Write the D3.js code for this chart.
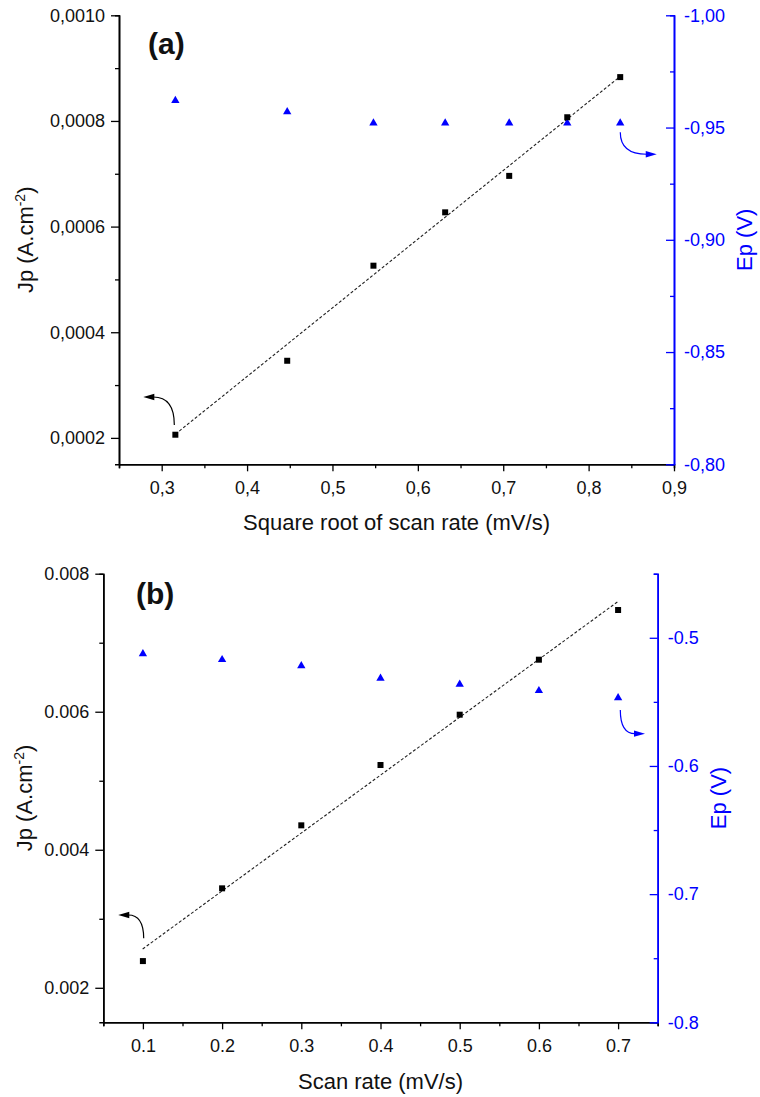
<!DOCTYPE html>
<html>
<head>
<meta charset="utf-8">
<script src="https://cdn.jsdelivr.net/npm/d3@7"></script>
<style>
  html, body { margin: 0; padding: 0; background: #fff; }
  svg text { font-family: "Liberation Sans", Arial, Helvetica, sans-serif; }
</style>
</head>
<body>
<svg id="chart" width="760" height="1097"></svg>
<script>
// ---------- DATA ----------
// Panel (a): square root of scan rate
const sqrtScanRate = [0.316, 0.447, 0.548, 0.632, 0.707, 0.775, 0.837];
const jpA = [0.000206, 0.000346, 0.000526, 0.000627, 0.000696, 0.000807, 0.000883];
const epA = [-0.962, -0.957, -0.952, -0.952, -0.952, -0.952, -0.952];
const fitAx = [0.316, 0.836];
const fitAy = [0.000207, 0.000883];
const xTicksA = [0.3, 0.4, 0.5, 0.6, 0.7, 0.8, 0.9];
const xMinorA = [0.25, 0.35, 0.45, 0.55, 0.65, 0.75, 0.85];
const yTicksA = [0.0002, 0.0004, 0.0006, 0.0008, 0.0010];
const yMinorA = [0.0003, 0.0005, 0.0007, 0.0009];
const y2TicksA = [-0.80, -0.85, -0.90, -0.95, -1.00];
const y2MinorA = [-0.825, -0.875, -0.925, -0.975];

// Panel (b): scan rate
const scanRate = [0.1, 0.2, 0.3, 0.4, 0.5, 0.6, 0.7];
const jpB = [0.002387, 0.003441, 0.004354, 0.005228, 0.005957, 0.006754, 0.007474];
const epB = [-0.5125, -0.5171, -0.5218, -0.5316, -0.5363, -0.5413, -0.5468];
const fitBx = [0.0997, 0.7008];
const fitBy = [0.002562, 0.007605];
const xTicksB = [0.1, 0.2, 0.3, 0.4, 0.5, 0.6, 0.7];
const xMinorB = [0.05, 0.15, 0.25, 0.35, 0.45, 0.55, 0.65, 0.75];
const yTicksB = [0.002, 0.004, 0.006, 0.008];
const yMinorB = [0.003, 0.005, 0.007];
const y2TicksB = [-0.5, -0.6, -0.7, -0.8];
const y2MinorB = [-0.45, -0.55, -0.65, -0.75];

// Annotation arrows (data units: [x, y]) — start of curve, arrow tip
const arrowsA = [
  { axis: "left",  start: [0.3148, 0.0002244], tip: [0.2785, 0.0002774] },
  { axis: "right", start: [0.8371, -0.9479],   tip: [0.8798, -0.9381] }
];
const arrowsB = [
  { axis: "left",  start: [0.1010, 0.002717],  tip: [0.0689, 0.003055] },
  { axis: "right", start: [0.7028, -0.5563],   tip: [0.7340, -0.5748] }
];

// ---------- DRAW ----------
const svg = d3.select("#chart");
const BLUE = "#0000ff";
const hy = (s) => s.replace("\u2212", "-");
const commaFmt = (digits) => (v) => hy(d3.format("." + digits + "f")(v)).replace(".", ",");
const dotFmt = (digits) => (v) => hy(d3.format("." + digits + "f")(v));

function drawPanel(cfg) {
  const g = svg.append("g");
  const x = d3.scaleLinear().domain(cfg.xDomain).range([cfg.left, cfg.right]);
  const y = d3.scaleLinear().domain(cfg.yDomain).range([cfg.bottom, cfg.top]);
  const y2 = d3.scaleLinear().domain(cfg.y2Domain).range([cfg.bottom, cfg.top]);

  // X axis (minor then major)
  const gxMinor = g.append("g").attr("transform", `translate(0,${cfg.bottom})`)
    .call(d3.axisBottom(x).tickValues(cfg.xMinor).tickSize(4).tickFormat(""));
  const gx = g.append("g").attr("transform", `translate(0,${cfg.bottom})`)
    .call(d3.axisBottom(x).tickValues(cfg.xTicks).tickSizeInner(7).tickSizeOuter(0)
      .tickPadding(10).tickFormat(cfg.xFmt));
  // Left axis
  const gyMinor = g.append("g").attr("transform", `translate(${cfg.left},0)`)
    .call(d3.axisLeft(y).tickValues(cfg.yMinor).tickSize(4).tickFormat(""));
  const gy = g.append("g").attr("transform", `translate(${cfg.left},0)`)
    .call(d3.axisLeft(y).tickValues(cfg.yTicks).tickSizeInner(8).tickSizeOuter(0)
      .tickPadding(6).tickFormat(cfg.yFmt));
  // Right axis (ticks pointing inward, labels outside)
  const gy2Minor = g.append("g").attr("transform", `translate(${cfg.right},0)`)
    .call(d3.axisLeft(y2).tickValues(cfg.y2Minor).tickSize(4).tickFormat(""));
  const gy2Major = g.append("g").attr("transform", `translate(${cfg.right},0)`)
    .call(d3.axisLeft(y2).tickValues(cfg.y2Ticks).tickSizeInner(8).tickSizeOuter(0).tickFormat(""));
  const gy2Lab = g.append("g").attr("transform", `translate(${cfg.right},0)`)
    .call(d3.axisRight(y2).tickValues(cfg.y2Ticks).tickSize(0).tickPadding(10).tickFormat(cfg.y2Fmt));

  [gxMinor, gx, gyMinor, gy].forEach(a => {
    a.selectAll(".domain").attr("stroke", "#000").attr("stroke-width", 1.6);
    a.selectAll(".tick line").attr("stroke", "#000").attr("stroke-width", 1.3);
    a.selectAll("text").attr("font-size", 18).attr("fill", "#111")
      .attr("font-family", '"Liberation Sans", Arial, sans-serif');
  });
  [gy2Minor, gy2Major, gy2Lab].forEach(a => {
    a.selectAll(".domain").attr("stroke", BLUE).attr("stroke-width", 1.6);
    a.selectAll(".tick line").attr("stroke", BLUE).attr("stroke-width", 1.3);
    a.selectAll("text").attr("font-size", 18).attr("fill", BLUE)
      .attr("font-family", '"Liberation Sans", Arial, sans-serif');
  });
  gy2Lab.select(".domain").remove();

  // Fit line
  const fit = cfg.fitX.map((v, i) => [v, cfg.fitY[i]]);
  g.append("path").datum(fit)
    .attr("d", d3.line().x(d => x(d[0])).y(d => y(d[1])))
    .attr("fill", "none").attr("stroke", "#222").attr("stroke-width", 1.1)
    .attr("stroke-dasharray", "3,2");

  // Triangles (Ep)
  const tri = d3.symbol().type(d3.symbolTriangle).size(30);
  g.selectAll(".tri").data(cfg.xs.map((v, i) => [v, cfg.ep[i]])).join("path")
    .attr("d", tri)
    .attr("transform", d => `translate(${x(d[0])},${y2(d[1])})`)
    .attr("fill", BLUE);

  // Squares (Jp)
  const sq = 6;
  g.selectAll(".sq").data(cfg.xs.map((v, i) => [v, cfg.jp[i]])).join("rect")
    .attr("x", d => x(d[0]) - sq / 2).attr("y", d => y(d[1]) - sq / 2)
    .attr("width", sq).attr("height", sq).attr("fill", "#000");

  // Curved arrows
  cfg.arrows.forEach(a => {
    const ys = a.axis === "left" ? y : y2;
    const col = a.axis === "left" ? "#000" : BLUE;
    const sx = x(a.start[0]), sy = ys(a.start[1]);
    const tx = x(a.tip[0]), ty = ys(a.tip[1]);
    const dir = Math.sign(tx - sx);
    const L = 11, W = 3.2;
    const bx = tx - dir * L;
    g.append("path")
      .attr("d", `M${sx},${sy} Q${sx},${ty} ${bx + dir * 1},${ty}`)
      .attr("fill", "none").attr("stroke", col).attr("stroke-width", 1.2);
    g.append("path")
      .attr("d", `M${tx},${ty} L${bx},${ty - W} L${bx},${ty + W} Z`)
      .attr("fill", col);
  });

  // Axis titles
  g.append("text")
    .attr("x", (cfg.left + cfg.right) / 2).attr("y", cfg.xTitleY)
    .attr("text-anchor", "middle").attr("font-size", 22).attr("fill", "#111")
    .text(cfg.xTitle);
  const yt = g.append("text")
    .attr("transform", `translate(${cfg.yTitleX},${(cfg.top + cfg.bottom) / 2}) rotate(-90)`)
    .attr("text-anchor", "middle").attr("font-size", 22).attr("fill", "#111");
  yt.append("tspan").text("Jp (A.cm");
  yt.append("tspan").attr("font-size", 14).attr("dy", -8).text("-2");
  yt.append("tspan").attr("dy", 8).text(")");
  g.append("text")
    .attr("transform", `translate(${cfg.y2TitleX},${(cfg.top + cfg.bottom) / 2}) rotate(-90)`)
    .attr("text-anchor", "middle").attr("font-size", 22).attr("fill", BLUE)
    .text("Ep (V)");

  // Panel label
  g.append("text").attr("x", cfg.labelX).attr("y", cfg.labelY)
    .attr("font-size", 30).attr("font-weight", "bold").attr("fill", "#111")
    .text(cfg.label);
}

drawPanel({
  left: 119, right: 674, top: 15.3, bottom: 464.3,
  xDomain: [0.25, 0.9], yDomain: [0.00015, 0.0010], y2Domain: [-0.80, -1.00],
  xTicks: xTicksA, xMinor: xMinorA, yTicks: yTicksA, yMinor: yMinorA,
  y2Ticks: y2TicksA, y2Minor: y2MinorA,
  xFmt: commaFmt(1), yFmt: commaFmt(4), y2Fmt: commaFmt(2),
  xs: sqrtScanRate, jp: jpA, ep: epA, fitX: fitAx, fitY: fitAy, arrows: arrowsA,
  xTitle: "Square root of scan rate (mV/s)", xTitleY: 530,
  yTitleX: 33, y2TitleX: 752, label: "(a)", labelX: 148, labelY: 54
});

drawPanel({
  left: 103.3, right: 657.7, top: 573.7, bottom: 1022.3,
  xDomain: [0.05, 0.75], yDomain: [0.0015, 0.008], y2Domain: [-0.8, -0.45],
  xTicks: xTicksB, xMinor: xMinorB, yTicks: yTicksB, yMinor: yMinorB,
  y2Ticks: y2TicksB, y2Minor: y2MinorB,
  xFmt: dotFmt(1), yFmt: dotFmt(3), y2Fmt: dotFmt(1),
  xs: scanRate, jp: jpB, ep: epB, fitX: fitBx, fitY: fitBy, arrows: arrowsB,
  xTitle: "Scan rate (mV/s)", xTitleY: 1089,
  yTitleX: 32, y2TitleX: 726, label: "(b)", labelX: 136, labelY: 604
});
</script>
</body>
</html>
